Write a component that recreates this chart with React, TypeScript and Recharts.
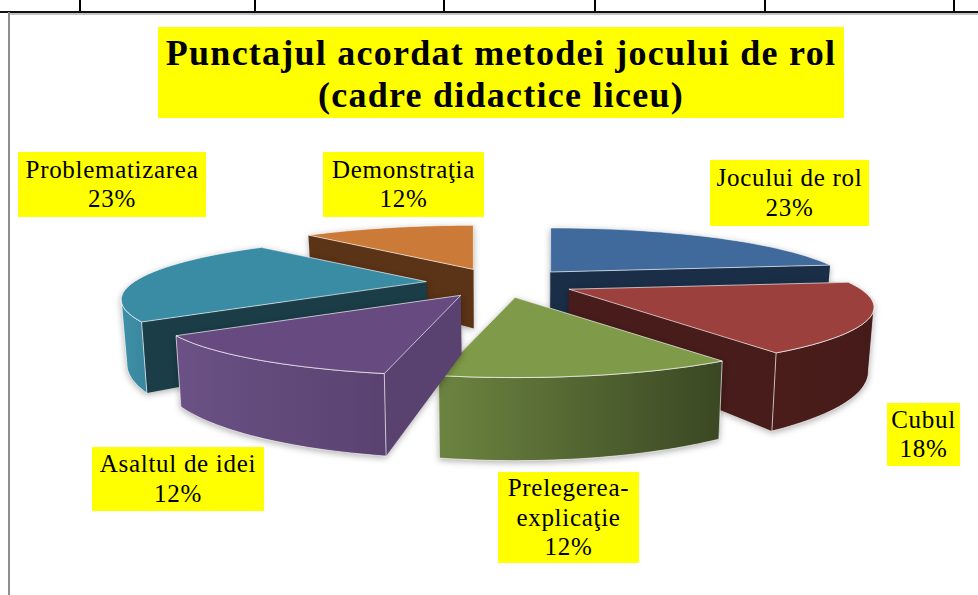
import React from 'react';
import { PieChart, Pie } from 'recharts';

const categories = ['Jocului de rol', 'Cubul', 'Prelegerea-explicaţie', 'Asaltul de idei', 'Problematizarea', 'Demonstraţia'];
const values = [23, 18, 12, 12, 23, 12];
const labelLines = [
  ['Jocului de rol'],
  ['Cubul'],
  ['Prelegerea-', 'explicaţie'],
  ['Asaltul de idei'],
  ['Problematizarea'],
  ['Demonstraţia'],
];
const titleLines = ['Punctajul acordat metodei jocului de rol', '(cadre didactice liceu)'];
const gridTicks = [80, 255, 444, 595, 765, 954];

// label boxes: x, y, w, h
const labelBoxes = [
  [710, 160, 159, 66],
  [887, 403, 73, 63],
  [498, 472, 141, 91],
  [92, 447, 172, 64],
  [18, 152, 188, 65],
  [323, 152, 161, 65],
];

const topColors = ['#416A9C', '#9C403E', '#7F9A48', '#664A80', '#3A8CA5', '#CC7A37'];
// radial wall at start / end of each slice (clockwise)
const wallColors = [
  ['#2E4D75', '#1A2E47'],
  ['#471C1A', '#471C1A'],
  ['#3A4723', '#6A8040'],
  ['#5A4270', '#5A4270'],
  ['#1A3D48', '#1A3D48'],
  ['#5B3316', '#CC7A37'],
];
// curved wall gradient, left to right
const rimColors = [
  ['#1A2E47', '#1A2E47'],
  ['#4A1D1A', '#451B19'],
  ['#6C8440', '#3A4723'],
  ['#6B5185', '#594270'],
  ['#3E8FA8', '#3A879E'],
  ['#5B3316', '#5B3316'],
];

const rows = categories.map((name, i) => ({ name, value: values[i], idx: i }));
const backNames = ['Jocului de rol', 'Demonstraţia'];
// the front pass starts at Problematizarea so it is painted under Asaltul de idei
const frontRows = [...rows.slice(4), ...rows.slice(0, 4)];
const frontStart = 90 - (values.slice(0, 4).reduce((a, b) => a + b, 0) / values.reduce((a, b) => a + b, 0)) * 360;

const TILT = 0.195;
const PERSP = 0.29;
const EXPLODE = 75;
const DEPTH = 59;
const EDGE = 'rgba(255,255,255,0.65)';
const rad = Math.PI / 180;
// where the rim turns away from the viewer
const SILHOUETTE = Math.acos(-PERSP) / rad;

function Slice3D(props: any) {
  const { cx, cy, outerRadius, startAngle, endAngle, payload } = props;
  const idx = payload.idx;
  // recharts angles run counterclockwise from 3 o'clock, here clockwise from 12
  const t0 = 90 - startAngle;
  const t1 = 90 - endAngle;
  const mid = (t0 + t1) / 2;
  const tipX = cx + EXPLODE * Math.sin(mid * rad);
  const tipY = cy - EXPLODE * TILT * Math.cos(mid * rad);

  const point = (deg: number, r: number, low: boolean): [number, number] => {
    const u = Math.sin(deg * rad) * r;
    const v = -Math.cos(deg * rad) * r;
    const s = 1 / (1 - PERSP * v);
    let x = tipX + outerRadius * u * s;
    let y = tipY + outerRadius * TILT * v * s;
    if (low) {
      x = cx + (x - cx) * 0.985;
      y += DEPTH * s;
    }
    return [x, y];
  };

  const arc = (from: number, to: number, low: boolean) => {
    const pts: [number, number][] = [];
    for (let i = 0; i <= 32; i++) pts.push(point(from + ((to - from) * i) / 32, 1, low));
    return pts;
  };
  const toPath = (pts: [number, number][]) => 'M' + pts.map((p) => p[0].toFixed(1) + ' ' + p[1].toFixed(1)).join('L') + 'Z';

  const tipTop = point(0, 0, false);
  const tipLow = point(0, 0, true);
  const upper = arc(t0, t1, false);
  const gradId = 'rim' + idx;

  // t0 may be past 360 after the rotation of the front pass
  const norm = (d: number) => ((d % 360) + 360) % 360;
  const a0 = norm(t0);
  const a1 = a0 + (t1 - t0);
  const rimFrom = Math.max(a0, SILHOUETTE);
  const rimTo = Math.min(a1, 360 - SILHOUETTE);

  const walls: { key: string; pts: [number, number][]; fill: string; stroke: string }[] = [
    {
      key: 'start',
      pts: [tipTop, point(t0, 1, false), point(t0, 1, true), tipLow],
      fill: wallColors[idx][0],
      stroke: 'none',
    },
    {
      key: 'end',
      pts: [tipTop, point(t1, 1, false), point(t1, 1, true), tipLow],
      fill: wallColors[idx][1],
      stroke: 'none',
    },
  ];
  if (rimFrom < rimTo) {
    walls.push({
      key: 'rim',
      pts: [...arc(rimFrom, rimTo, false), ...arc(rimFrom, rimTo, true).reverse()],
      fill: `url(#${gradId})`,
      stroke: EDGE,
    });
  }
  const meanY = (pts: [number, number][]) => pts.reduce((a, p) => a + p[1], 0) / pts.length;
  walls.sort((a, b) => meanY(a.pts) - meanY(b.pts));

  return (
    <g style={{ filter: 'drop-shadow(0 2px 3px rgba(0,0,0,0.3))' }}>
      <defs>
        <linearGradient id={gradId} x1="0" y1="0" x2="1" y2="0">
          <stop offset="0%" stopColor={rimColors[idx][0]} />
          <stop offset="100%" stopColor={rimColors[idx][1]} />
        </linearGradient>
      </defs>
      {walls.map((w) => (
        <path key={w.key} d={toPath(w.pts)} fill={w.fill} stroke={w.stroke} strokeWidth={1} />
      ))}
      <path d={toPath([tipTop, ...upper])} fill={topColors[idx]} stroke={EDGE} strokeWidth={1} />
    </g>
  );
}

function renderLabel(props: any) {
  const idx = props.payload ? props.payload.idx : props.idx;
  const [x, y, w, h] = labelBoxes[idx];
  const lines = [...labelLines[idx], values[idx] + '%'];
  const lineH = 29.5;
  const first = y + h / 2 - ((lines.length - 1) * lineH) / 2 + 8;
  return (
    <g key={idx}>
      <rect x={x} y={y} width={w} height={h} fill="#FFFF00" />
      {lines.map((line, i) => (
        <text key={i} x={x + w / 2} y={first + i * lineH} textAnchor="middle" fontSize={25} letterSpacing={0.7} fill="#000" fontFamily="'Liberation Serif', serif">
          {line}
        </text>
      ))}
    </g>
  );
}

export default function App() {
  return (
    <div style={{ position: 'absolute', left: 0, top: 0, width: 978, height: 595, overflow: 'hidden', background: '#fff' }}>
      {gridTicks.map((x) => (
        <div key={x} style={{ position: 'absolute', left: x - 1, top: 0, width: 2, height: 12, background: '#000' }} />
      ))}
      <div style={{ position: 'absolute', left: 0, top: 11, width: 978, height: 2, background: '#111' }} />
      <div style={{ position: 'absolute', left: 8, top: 13, width: 970, height: 2, background: '#c4c4c4' }} />
      <div style={{ position: 'absolute', left: 8, top: 12, width: 2, height: 583, background: '#8e8e8e' }} />
      <div
        style={{
          position: 'absolute',
          left: 158,
          top: 27,
          width: 686,
          height: 91,
          background: '#FFFF00',
          textAlign: 'center',
          fontFamily: "'Liberation Serif', serif",
          fontWeight: 700,
          fontSize: 36,
          letterSpacing: 1.25,
          lineHeight: '42px',
          paddingTop: 5,
          boxSizing: 'border-box',
          color: '#000',
        }}
      >
        {titleLines.map((t) => (
          <div key={t}>{t}</div>
        ))}
      </div>
      <div style={{ position: 'absolute', left: 0, top: 0 }}>
        <PieChart width={978} height={595} margin={{ top: 0, right: 0, bottom: 0, left: 0 }}>
          <Pie
            data={rows}
            dataKey="value"
            nameKey="name"
            cx={501}
            cy={283}
            outerRadius={292}
            startAngle={90}
            endAngle={-270}
            isAnimationActive={false}
            shape={(p: any) => (backNames.includes(p.payload.name) ? <Slice3D {...p} /> : <g />)}
          />
          <Pie
            data={frontRows}
            dataKey="value"
            nameKey="name"
            cx={501}
            cy={283}
            outerRadius={292}
            startAngle={frontStart}
            endAngle={frontStart - 360}
            isAnimationActive={false}
            labelLine={false}
            label={renderLabel}
            shape={(p: any) => (backNames.includes(p.payload.name) ? <g /> : <Slice3D {...p} />)}
          />
        </PieChart>
      </div>
    </div>
  );
}
